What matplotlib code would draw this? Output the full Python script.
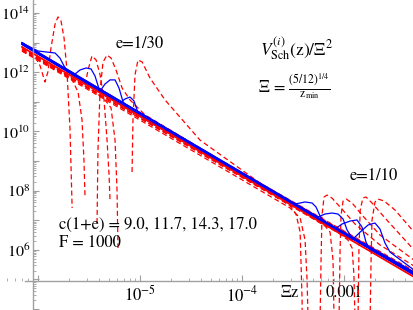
import numpy as np
import matplotlib
matplotlib.use("Agg")
from matplotlib import pyplot as plt
from matplotlib.ticker import LogLocator, FuncFormatter, NullFormatter

plt.rcParams['font.family'] = ['STIXGeneral', 'DejaVu Serif']
plt.rcParams['mathtext.fontset'] = 'stix'

# ---- data (x = Xi z, y = V/Xi^2) ----
# reference power law
red_x = [6.97e-7, 4.85e-3]
red_y = [7.1e12, 1.21e5]

# blue curves, e = 1/30 (bumps at small z)
b30_0_x = [6.97e-7, 1.0e-6, 1.22e-6, 1.47e-6, 1.64e-6, 1.80e-6, 1.97e-6, 2.25e-6, 4.85e-3]
b30_0_y = [9.7e12, 5.2e12, 4.8e12, 4.45e12, 3.0e12, 1.62e12, 1.02e12, 7.45e11, 1.41e5]
b30_1_x = [6.97e-7, 2.31e-6, 2.58e-6, 2.96e-6, 3.31e-6, 3.62e-6, 3.97e-6, 4.44e-6, 4.85e-3]
b30_1_y = [9.2e12, 8.7e11, 1.19e12, 1.39e12, 1.29e12, 7.45e11, 2.71e11, 1.70e11, 1.52e5]
b30_2_x = [6.97e-7, 4.06e-6, 4.54e-6, 5.08e-6, 5.69e-6, 6.22e-6, 6.82e-6, 7.63e-6, 4.85e-3]
b30_2_y = [1.0e13, 2.32e11, 4.0e11, 5.5e11, 5.5e11, 2.93e11, 9.9e10, 6.2e10, 1.65e5]
b30_3_x = [6.97e-7, 6.37e-6, 7.13e-6, 7.98e-6, 8.73e-6, 9.35e-6, 1.02e-5, 1.15e-5, 4.85e-3]
b30_3_y = [8.6e12, 9.1e10, 1.25e11, 1.45e11, 1.07e11, 5.3e10, 3.07e10, 2.43e10, 1.78e5]

# blue curves, e = 1/10 (bumps at large z)
b10_0_x = [6.97e-7, 3.31e-4, 4.15e-4, 4.86e-4, 5.31e-4, 5.82e-4, 6.37e-4, 7.29e-4, 4.85e-3]
b10_0_y = [9.7e12, 3.53e7, 4.13e7, 3.82e7, 2.80e7, 1.39e7, 8.7e6, 6.9e6, 1.41e5]
b10_1_x = [6.97e-7, 5.56e-4, 6.51e-4, 7.62e-4, 8.73e-4, 9.78e-4, 1.07e-3, 1.20e-3, 4.85e-3]
b10_1_y = [9.2e12, 1.29e7, 1.62e7, 1.75e7, 1.62e7, 1.10e7, 4.7e6, 2.5e6, 1.52e5]
b10_2_x = [6.97e-7, 8.16e-4, 9.56e-4, 1.15e-3, 1.34e-3, 1.50e-3, 1.64e-3, 1.80e-3, 4.85e-3]
b10_2_y = [1.0e13, 5.05e6, 7.45e6, 9.4e6, 1.02e7, 5.9e6, 1.84e6, 9.9e5, 1.65e5]
b10_3_x = [6.97e-7, 1.20e-3, 1.44e-3, 1.72e-3, 2.01e-3, 2.25e-3, 2.52e-3, 2.82e-3, 4.85e-3]
b10_3_y = [8.6e12, 2.15e6, 4.0e6, 6.9e6, 8.05e6, 5.05e6, 1.70e6, 8.4e5, 2.08e5]

# red dashed curves, e = 1/30 (nan = curve goes negative)
d30_0_x = [6.97e-7, 9.14e-7, 1.05e-6, 1.17e-6, 1.25e-6, 1.34e-6, 1.47e-6, 1.57e-6, 1.68e-6,
           1.80e-6, 1.92e-6, 2.06e-6, 2.16e-6]
d30_0_y = [6.1e12, 3.8e12, 1.62e12, 4.68e11, 1.02e12, 6.6e12, 4.26e13, 7.35e13, 5.4e13,
           1.43e13, 1.19e12, 1.12e10, 2.59e7]
d30_1_x = [6.97e-7, 1.84e-6, 2.16e-6, 2.47e-6, 2.70e-6, 2.82e-6, 2.89e-6, np.nan,
           3.79e-6, 3.87e-6, 4.06e-6, 4.34e-6, 4.75e-6, 5.20e-6, 5.82e-6, 6.67e-6, 7.98e-6,
           1.12e-5, 1.97e-5, 6.08e-5, 4.85e-3]
d30_1_y = [5.6e12, 9.4e11, 5.5e11, 2.15e11, 2.43e10, 1.08e9, 6.1e7, np.nan,
           8.05e6, 2.36e9, 2.51e11, 2.21e12, 3.8e12, 3.0e12, 1.19e12, 2.93e11, 1.15e11,
           3.6e10, 1.12e10, 1.08e9, 1.78e5]
d30_2_x = [6.97e-7, 2.58e-6, 2.89e-6, 3.09e-6, 3.38e-6, 3.71e-6, 4.06e-6, 4.44e-6, 4.75e-6,
           4.97e-6, 5.08e-6]
d30_2_y = [5.2e12, 4.3e11, 3.42e11, 1.19e12, 3.53e12, 2.59e12, 8.1e11, 1.15e11, 5.1e9,
           3.37e8, 4.8e7]
d30_3_x = [6.97e-7, 3.62e-6, 4.54e-6, 5.20e-6, 5.69e-6, 5.95e-6, 6.08e-6, np.nan,
           8.35e-6, 8.53e-6, 8.93e-6, 9.55e-6, 1.05e-5, 1.25e-5, 1.76e-5, 3.87e-5, 1.50e-4, 4.85e-3]
d30_3_y = [6.6e12, 2.15e11, 1.15e11, 6.2e10, 5.1e9, 1.05e8, 1.15e6, np.nan,
           4.26e8, 2.43e10, 8.1e11, 2.59e12, 2.21e12, 6.4e11, 1.15e11, 5.1e9, 1.81e8, 1.93e5]

# red dashed curves, e = 1/10
d10_0_x = [6.97e-7, 2.36e-4, 2.96e-4, 3.38e-4, 3.71e-4, 3.88e-4, 3.88e-4, np.nan,
           5.82e-4, 5.95e-4, 6.08e-4, 6.37e-4, 6.81e-4, 7.62e-4, 9.14e-4, 1.28e-3, 2.25e-3, 4.85e-3]
d10_0_y = [5.6e12, 5.2e7, 3.03e7, 1.62e7, 4.0e6, 2.0e4, 4.3e3, np.nan,
           4.3e3, 4.5e5, 1.5e7, 6.1e7, 7.1e7, 5.6e7, 2.8e7, 7.45e6, 1.46e6, 2.84e5]
d10_1_x = [6.97e-7, 2.96e-4, 3.71e-4, 4.15e-4, 4.34e-4, 4.44e-4, np.nan,
           8.93e-4, 9.14e-4, 9.35e-4, 9.78e-4, 1.05e-3, 1.20e-3, 1.50e-3, 2.25e-3, 4.85e-3]
d10_1_y = [5.2e12, 2.59e7, 1.19e7, 2.15e6, 9.6e4, 4.3e3, np.nan,
           4.3e3, 9.9e5, 1.5e7, 4.46e7, 5.2e7, 3.82e7, 1.5e7, 3.17e6, 4.5e5]
d10_2_x = [6.97e-7, 5.20e-4, 6.51e-4, 7.29e-4, 7.80e-4, 7.98e-4, np.nan,
           1.37e-3, 1.40e-3, 1.44e-3, 1.53e-3, 1.64e-3, 1.88e-3, 2.52e-3, 4.85e-3]
d10_2_y = [6.1e12, 1.02e7, 6.35e6, 4.0e6, 4.5e5, 4.3e3, np.nan,
           4.3e3, 9.9e5, 2.21e7, 5.6e7, 6.1e7, 3.82e7, 1.19e7, 9.9e5]
d10_3_x = [6.97e-7, 9.14e-4, 1.09e-3, 1.20e-3, 1.25e-3, 1.28e-3, np.nan,
           1.80e-3, 1.84e-3, 1.88e-3, 2.01e-3, 2.15e-3, 2.47e-3, 3.16e-3, 4.85e-3]
d10_3_y = [5.6e12, 3.43e6, 2.15e6, 1.15e6, 1.41e5, 4.3e3, np.nan,
           4.3e3, 4.5e5, 1.02e7, 4.13e7, 5.2e7, 4.46e7, 2.21e7, 4.0e6]

c_values = ["9.0", "11.7", "14.3", "17.0"]

blue_curves = [(b30_0_x, b30_0_y), (b30_1_x, b30_1_y), (b30_2_x, b30_2_y), (b30_3_x, b30_3_y),
               (b10_0_x, b10_0_y), (b10_1_x, b10_1_y), (b10_2_x, b10_2_y), (b10_3_x, b10_3_y)]
dashed_curves = [(d30_0_x, d30_0_y), (d30_1_x, d30_1_y), (d30_2_x, d30_2_y), (d30_3_x, d30_3_y),
                 (d10_0_x, d10_0_y), (d10_1_x, d10_1_y), (d10_2_x, d10_2_y), (d10_3_x, d10_3_y)]

fig = plt.figure(figsize=(4.14, 3.10), dpi=100)
ax = fig.add_axes([0, 0, 1, 1])
ax.set_xscale('log')
ax.set_yscale('log')
ax.set_xlim(4.24e-7, 4.85e-3)
ax.set_ylim(9.27e3, 2.75e14)

for xs, ys in dashed_curves:
    ax.plot(xs, ys, color='#ff0000', lw=0.9, dashes=(4, 2.5))
for xs, ys in blue_curves:
    ax.plot(xs, ys, color='#0000ff', lw=0.9)
ax.plot(red_x, red_y, color='#ff0000', lw=1.3)

# Mathematica style axes crossing inside the frame
axis_col = '#a0a0a0'
for s in ['top', 'right']:
    ax.spines[s].set_visible(False)
ax.spines['left'].set_position(('data', 8.9e-7))
ax.spines['bottom'].set_position(('data', 8.85e4))
ax.spines['bottom'].set_bounds(7.5e-7, 4.85e-3)
for s in ['left', 'bottom']:
    ax.spines[s].set_color(axis_col)
    ax.spines[s].set_linewidth(1.0)

ax.xaxis.set_major_locator(LogLocator(base=10, numticks=20))
ax.xaxis.set_minor_locator(LogLocator(base=10, subs=np.arange(2, 10), numticks=50))
ax.yaxis.set_major_locator(LogLocator(base=10, numticks=30))
ax.yaxis.set_minor_locator(LogLocator(base=10, subs=np.arange(2, 10), numticks=100))


def xfmt(v, pos):
    e = int(round(np.log10(v)))
    if e == -3:
        return '0.001'
    if e in (-5, -4):
        return r'$10^{%d}$' % e
    return ''


def yfmt(v, pos):
    e = int(round(np.log10(v)))
    if e % 2 == 0 and 6 <= e <= 14:
        return r'$10^{%d}$' % e
    return ''


ax.xaxis.set_major_formatter(FuncFormatter(xfmt))
ax.yaxis.set_major_formatter(FuncFormatter(yfmt))
ax.xaxis.set_minor_formatter(NullFormatter())
ax.yaxis.set_minor_formatter(NullFormatter())
ax.tick_params(axis='x', which='major', direction='in', length=4, width=0.8, color=axis_col,
               labelsize=12, labelcolor='black', pad=3)
ax.tick_params(axis='y', which='major', direction='in', length=4, width=0.8, color=axis_col,
               labelsize=11.5, labelcolor='black', pad=2)
ax.tick_params(which='minor', direction='in', length=2, width=0.6, color=axis_col)

ax.text(2.95e-4, 3.6e4, r'$\Xi$z', fontsize=12, ha='center', va='center')

ax.text(1.0e-5, 9.0e12, 'e=1/30', fontsize=12, ha='center', va='center')
ax.text(1.95e-3, 3.2e8, 'e=1/10', fontsize=12, ha='center', va='center')
ax.text(1.6e-6, 7.0e6, 'c(1+e) = ' + ', '.join(c_values), fontsize=12, ha='left', va='center')
ax.text(1.6e-6, 1.75e6, 'F = 1000', fontsize=12, ha='left', va='center')
ax.text(1.5e-4, 6.0e12, r'$V^{(i)}_{\rm Sch}(\mathrm{z})/\Xi^{2}$', fontsize=12.5, ha='left', va='center')
ax.text(1.45e-4, 3.5e11, r'$\Xi\,=\,\frac{(5/12)^{1/4}}{\mathrm{z}_{\rm min}}$', fontsize=12,
        ha='left', va='center')

plt.savefig('out.png', dpi=100)
